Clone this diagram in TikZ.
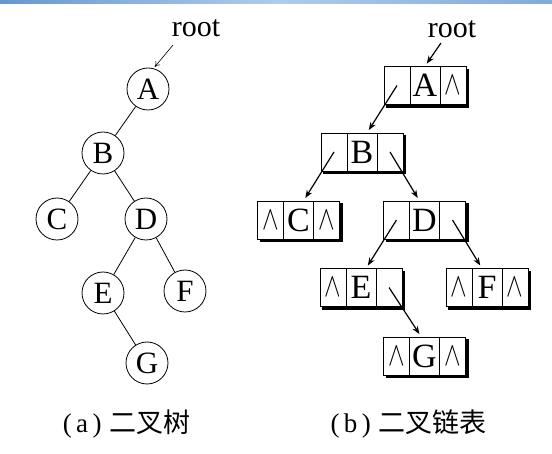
\documentclass[tikz,border=0pt]{standalone}
\usepackage{fontspec}
\usepackage{graphicx}
\setmainfont{Liberation Serif}
\newfontfamily\cjk{Noto Sans CJK SC}
\usetikzlibrary{arrows.meta,shadows}
\definecolor{barA}{RGB}{105,150,205}
\definecolor{barB}{RGB}{175,205,235}
\definecolor{barC}{RGB}{130,170,215}
\begin{document}
\begin{tikzpicture}[x=1pt,y=-1pt,
  circ/.style={circle,draw,line width=0.8pt,minimum size=42pt,inner sep=0pt,font=\fontsize{31}{31}\selectfont},
  edge/.style={line width=0.8pt},
  linkbox/.style={draw,minimum width=82pt,minimum height=38pt,inner sep=0pt,line width=0.8pt,fill=white,
     copy shadow={shadow xshift=2.5pt,shadow yshift=-2.5pt,fill=black,draw=black},
     font=\fontsize{34}{34}\selectfont},
  nullmark/.style={inner sep=0pt,font=\fontsize{34}{34}\selectfont},
  rootlbl/.style={anchor=base,inner sep=0pt,font=\fontsize{30}{30}\selectfont},
  thinarr/.style={line width=0.6pt,-{To[length=5pt,width=6pt]}},
  ptrarr/.style={line width=1.2pt,-{Stealth[length=8pt,width=6pt]}},
  caption/.style={inner sep=0pt,font=\fontsize{27}{27}\selectfont}
]
\useasboundingbox (0,0) rectangle (552,454);
\fill[white] (0,0) rectangle (552,454);
\shade[left color=barA,right color=barC,middle color=barB] (0,0) rectangle (552,4);

% ---------- (a) binary tree ----------
\node[circ] (A) at (148,89) {A};
\node[circ] (B) at (103,153) {B};
\node[circ] (C) at (57,219) {C};
\node[circ] (D) at (146,219) {D};
\node[circ] (E) at (103,293) {E};
\node[circ] (F) at (185,291) {F};
\node[circ] (G) at (147,363) {G};
\draw[edge] (A) -- (B);
\draw[edge] (B) -- (C);
\draw[edge] (B) -- (D);
\draw[edge] (D) -- (E);
\draw[edge] (D) -- (F);
\draw[edge] (E) -- (G);
\node[rootlbl] (rootL) at (196,37) {root};
\coordinate (rLs) at (173,45);
\draw[thinarr,shorten >=2pt] (rLs) -- (A.75);

% ---------- (b) binary linked list ----------
\foreach \n/\x/\y/\t in {bA/425/85.5/A, bB/362/152/B, bC/298.5/220/C, bD/424.5/220/D,
                          bE/361/287.5/E, bF/487/287.5/F, bG/424.5/356/G}{
  \node[linkbox] (\n) at (\x,\y) {\t};
  \draw[line width=0.8pt] ([xshift=-15pt]\n.north) -- ([xshift=-15pt]\n.south);
  \draw[line width=0.8pt] ([xshift=15pt]\n.north) -- ([xshift=15pt]\n.south);
  \coordinate (\n-l) at ([xshift=-28pt]\n.center);
  \coordinate (\n-r) at ([xshift=28pt]\n.center);
}
\foreach \c in {bA-r, bC-l, bC-r, bE-l, bF-l, bF-r, bG-l, bG-r}{
  \node[nullmark] at (\c) {\scalebox{1.0}[1.35]{$\wedge$}};
}
\node[rootlbl] (rootR) at (452,38) {root};
\coordinate (rRs) at (441,43);
\draw[ptrarr,shorten >=3pt] (rRs) -- (bA.north);
\draw[ptrarr,shorten >=3pt] (bA-l) -- (bB.75);
\draw[ptrarr,shorten >=3pt] (bB-l) -- (bC.75);
\draw[ptrarr,shorten >=3pt] (bB-r) -- (bD.105);
\draw[ptrarr,shorten >=3pt] (bD-l) -- (bE.75);
\draw[ptrarr,shorten >=3pt] (bD-r) -- (bF.105);
\draw[ptrarr,shorten >=3pt] (bE-r) -- (bG.100);

% ---------- captions ----------
\node[caption] (capA) at (126.5,424) {(\,a\,)\;{\cjk 二叉树}};
\node[caption] (capB) at (408.5,424) {(\,b\,)\;{\cjk 二叉链表}};
\end{tikzpicture}
\end{document}
